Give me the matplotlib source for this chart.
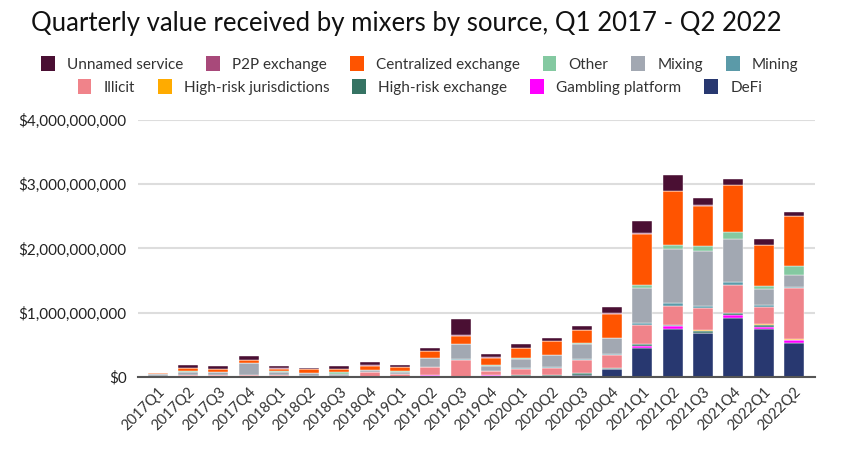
import numpy as np
import matplotlib
matplotlib.use("Agg")
import matplotlib.pyplot as plt
from matplotlib.patches import Patch
from matplotlib.ticker import FuncFormatter

plt.rcParams['font.family'] = ['Lato', 'DejaVu Sans']

# trimestres
quarters = ['2017Q1', '2017Q2', '2017Q3', '2017Q4', '2018Q1', '2018Q2', '2018Q3', '2018Q4',
            '2019Q1', '2019Q2', '2019Q3', '2019Q4', '2020Q1', '2020Q2', '2020Q3', '2020Q4',
            '2021Q1', '2021Q2', '2021Q3', '2021Q4', '2022Q1', '2022Q2']

# valores em bilhoes de dolares, de baixo para cima na pilha
defi = [0, 0, 0, 0, 0, 0, 0, 0, 0, 0, 0, 0, 0, 0, 0.03, 0.125, 0.45, 0.75, 0.685, 0.91, 0.75, 0.535]
gambling = [0, 0, 0, 0, 0, 0, 0, 0, 0, 0.03, 0.005, 0.03, 0, 0.005, 0.005, 0.005, 0.025, 0.04, 0.005, 0.06, 0.03, 0.035]
hr_exchange = [0, 0, 0, 0, 0, 0, 0, 0, 0, 0, 0, 0.005, 0.026, 0.026, 0.025, 0.01, 0.035, 0.015, 0.03, 0.025, 0.035, 0.01]
hr_jurisdictions = [0, 0, 0, 0, 0, 0, 0, 0, 0, 0, 0, 0, 0, 0, 0, 0.002, 0.003, 0.003, 0.003, 0.003, 0.002, 0.002]
illicit = [0.02, 0.03, 0.03, 0.03, 0.03, 0.02, 0.02, 0.083, 0.04, 0.12, 0.265, 0.057, 0.1, 0.115, 0.21, 0.2, 0.3, 0.3, 0.35, 0.44, 0.275, 0.795]
mining = [0, 0, 0, 0, 0, 0, 0, 0, 0, 0.01, 0.005, 0.005, 0.005, 0.015, 0.01, 0.02, 0.025, 0.04, 0.035, 0.04, 0.025, 0.015]
mixing = [0.03, 0.05, 0.04, 0.18, 0.05, 0.035, 0.03, 0.02, 0.04, 0.13, 0.23, 0.078, 0.155, 0.18, 0.235, 0.245, 0.545, 0.84, 0.855, 0.675, 0.255, 0.2]
other = [0.002, 0.005, 0.005, 0.005, 0.01, 0.005, 0.02, 0.01, 0.005, 0.01, 0.005, 0.005, 0.005, 0.005, 0.005, 0.005, 0.05, 0.07, 0.07, 0.1, 0.05, 0.14]
centralized = [0.005, 0.05, 0.04, 0.05, 0.04, 0.055, 0.05, 0.062, 0.062, 0.1, 0.13, 0.12, 0.155, 0.21, 0.21, 0.37, 0.79, 0.83, 0.63, 0.73, 0.63, 0.77]
p2p = [0.002, 0.005, 0.005, 0.005, 0.005, 0.003, 0.005, 0.005, 0.003, 0.005, 0.005, 0.005, 0.005, 0.005, 0.005, 0.005, 0.01, 0.01, 0.005, 0.005, 0.005, 0.005]
unnamed = [0.005, 0.045, 0.045, 0.05, 0.04, 0.025, 0.04, 0.052, 0.04, 0.05, 0.255, 0.052, 0.057, 0.052, 0.06, 0.1, 0.19, 0.24, 0.12, 0.1, 0.085, 0.06]

series = [
    ('DeFi', defi, '#283870'),
    ('Gambling platform', gambling, '#ff00ff'),
    ('High-risk exchange', hr_exchange, '#357363'),
    ('High-risk jurisdictions', hr_jurisdictions, '#ffab00'),
    ('Illicit', illicit, '#f0838a'),
    ('Mining', mining, '#5b9aa8'),
    ('Mixing', mixing, '#a2a8b2'),
    ('Other', other, '#84c9a1'),
    ('Centralized exchange', centralized, '#ff5400'),
    ('P2P exchange', p2p, '#a8497a'),
    ('Unnamed service', unnamed, '#4a0f33'),
]

fig = plt.figure(figsize=(8.5, 4.63), dpi=100)
ax = fig.add_axes([0.162, 0.186, 0.797, 0.555])

x = np.arange(len(quarters))
bottom = np.zeros(len(quarters))
for name, vals, cor in series:
    v = np.array(vals) * 1e9
    ax.bar(x, v, width=0.66, bottom=bottom, color=cor, edgecolor='white', linewidth=0.3, zorder=3)
    bottom += v

ax.set_ylim(0, 4e9)
ax.set_xlim(-0.66, 21.7)
ax.set_yticks([0, 1e9, 2e9, 3e9, 4e9])
ax.yaxis.set_major_formatter(FuncFormatter(lambda v, p: '${:,.0f}'.format(v)))
ax.grid(axis='y', color='#dddddd', linewidth=1.5, zorder=0)
ax.set_xticks(x)
ax.set_xticklabels(quarters, rotation=45, ha='right', rotation_mode='anchor', fontsize=10.5, color='#333333')
ax.tick_params(axis='y', length=0, labelsize=11, colors='#222222', pad=8)
ax.tick_params(axis='x', length=0, pad=6)
for s in ['top', 'right', 'left']:
    ax.spines[s].set_visible(False)
ax.spines['bottom'].set_color('#555555')
ax.spines['bottom'].set_linewidth(1.5)
ax.spines['bottom'].set_zorder(4)

fig.text(0.478, 0.950, 'Quarterly value received by mixers by source, Q1 2017 - Q2 2022',
         ha='center', va='center', fontsize=18.5, color='#111111')

# legenda em duas linhas centralizadas
cores = {name: cor for name, vals, cor in series}
linha1 = ['Unnamed service', 'P2P exchange', 'Centralized exchange', 'Other', 'Mixing', 'Mining']
linha2 = ['Illicit', 'High-risk jurisdictions', 'High-risk exchange', 'Gambling platform', 'DeFi']
for nomes, ypos in [(linha1, 0.862), (linha2, 0.812)]:
    handles = [Patch(facecolor=cores[n], edgecolor='none') for n in nomes]
    fig.legend(handles, nomes, loc='center', bbox_to_anchor=(0.494, ypos), ncol=len(nomes),
               frameon=False, fontsize=11, handlelength=0.9, handleheight=1.1,
               handletextpad=0.8, columnspacing=1.5, labelcolor='#333333')

fig.savefig('out.png', dpi=100)
